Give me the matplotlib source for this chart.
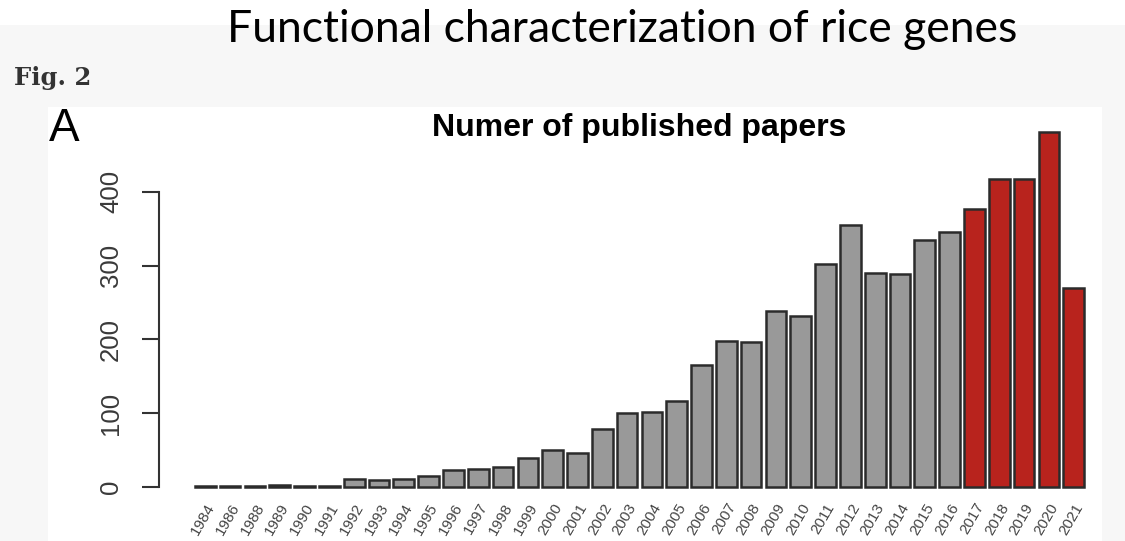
import matplotlib
matplotlib.use("Agg")
import matplotlib.pyplot as plt
from matplotlib.patches import Rectangle

# Publications per year on functional characterization of rice genes
years = ["1984", "1986", "1988", "1989", "1990", "1991",
         "1992", "1993", "1994", "1995", "1996", "1997", "1998", "1999", "2000", "2001",
         "2002", "2003", "2004", "2005", "2006", "2007", "2008", "2009", "2010", "2011",
         "2012", "2013", "2014", "2015", "2016", "2017", "2018", "2019", "2020", "2021"]
papers = [1, 1, 1, 3, 2, 2,
          11, 10, 11, 15, 23, 25, 27, 39, 50, 46,
          79, 100, 102, 117, 165, 198, 197, 239, 231, 302,
          355, 290, 289, 334, 346, 377, 417, 417, 481, 269]
highlight_from = 2017
y_ticks = [0, 100, 200, 300, 400]

GREY_FILL = "#999999"
RED_FILL = "#b8231d"
EDGE = "#2b2b2b"

W, H = 1125, 541
fig = plt.figure(figsize=(W / 100, H / 100), dpi=100, facecolor="white")


def fx(px):
    return px / W


def fy(py):
    return 1 - py / H


# page background and white figure panel
fig.patches.append(Rectangle((0, 0), 1, fy(25), transform=fig.transFigure,
                             facecolor="#f7f7f7", edgecolor="none", zorder=-3))
fig.patches.append(Rectangle((fx(48), 0), fx(1102) - fx(48), fy(107),
                             transform=fig.transFigure,
                             facecolor="white", edgecolor="none", zorder=-2))

# axes placed so that bars sit on the page as in the figure
left_px, right_px, top_px, bottom_px = 159, 1100, 120, 495
ax = fig.add_axes([fx(left_px), fy(bottom_px),
                   fx(right_px) - fx(left_px), fy(top_px) - fy(bottom_px)])
ax.set_facecolor("none")

px_per_unit = 889 / 43.0
x0_px = 195 - 0.2 * px_per_unit
ax.set_xlim((left_px - x0_px) / px_per_unit, (right_px - x0_px) / px_per_unit)
py_per_unit = (487 - 191.7) / 400.0
ax.set_ylim(-(bottom_px - 487) / py_per_unit, (487 - top_px) / py_per_unit)

centers = [0.7 + 1.2 * i for i in range(len(years))]
colors = [RED_FILL if int(y) >= highlight_from else GREY_FILL for y in years]
ax.bar(centers, papers, width=1.0, color=colors, edgecolor=EDGE, linewidth=1.8,
       zorder=2)

for s in ["top", "right", "bottom"]:
    ax.spines[s].set_visible(False)
ax.spines["left"].set_bounds(0, 400)
ax.spines["left"].set_color("#333333")
ax.spines["left"].set_linewidth(1.5)

ax.set_yticks(y_ticks)
ax.set_yticklabels([str(t) for t in y_ticks], rotation=90, va="center",
                   fontsize=18.5, color="#3a3a3a", family="Liberation Sans")
ax.tick_params(axis="y", length=12, width=1.5, color="#333333", pad=14)

ax.set_xticks(centers)
ax.set_xticklabels(years, rotation=60, ha="right", va="top",
                   rotation_mode="anchor", fontsize=11, color="#444444",
                   family="Liberation Sans")
ax.tick_params(axis="x", length=0, pad=4)

# titles and panel letters
fig.text(fx(622), fy(42), "Functional characterization of rice genes",
         ha="center", va="baseline", fontsize=32, family="Lato", color="black")
fig.text(fx(14), fy(85), "Fig. 2", ha="left", va="baseline", fontsize=17.5,
         family="DejaVu Serif", weight="bold", color="#333333")
fig.text(fx(49), fy(141), "A", ha="left", va="baseline", fontsize=33,
         family="Liberation Sans", color="black")
fig.text(fx(639.5), fy(136), "Numer of published papers", ha="center",
         va="baseline", fontsize=23, family="Liberation Sans", weight="bold",
         color="black")

fig.savefig("out.png", dpi=100, facecolor=fig.get_facecolor())
